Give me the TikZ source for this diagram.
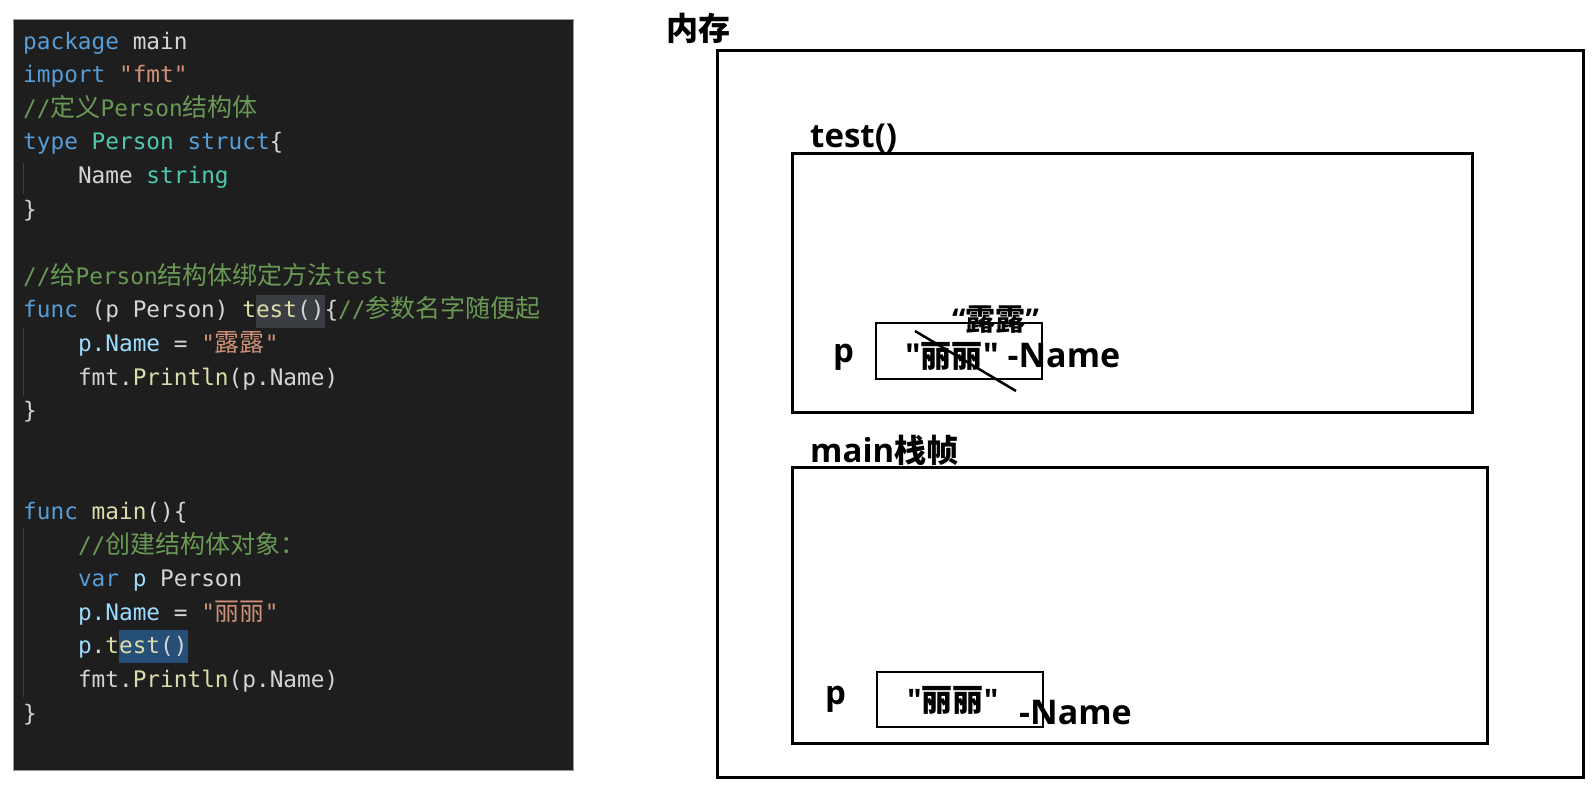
\documentclass[tikz,border=0pt]{standalone}
\usepackage{fontspec}
\setmainfont{Open Sans}
\setmonofont{DejaVu Sans Mono}
\newfontfamily\osans{Open Sans}
\newfontfamily\cjk{Noto Sans CJK SC}
\definecolor{cbg}{HTML}{1E1E1E}
\definecolor{ctxt}{HTML}{D4D4D4}
\definecolor{ckwc}{HTML}{569CD6}
\definecolor{ctyc}{HTML}{4EC9B0}
\definecolor{cstrc}{HTML}{CE9178}
\definecolor{ccmc}{HTML}{6A9955}
\definecolor{cfnc}{HTML}{DCDCAA}
\definecolor{cvrc}{HTML}{9CDCFE}
\definecolor{chlone}{HTML}{3A3D41}
\definecolor{chltwo}{HTML}{264F78}
\definecolor{cguide}{HTML}{404040}
\newcommand\ckw[1]{\textcolor{ckwc}{#1}}
\newcommand\cty[1]{\textcolor{ctyc}{#1}}
\newcommand\cstr[1]{\textcolor{cstrc}{#1}}
\newcommand\ccm[1]{\textcolor{ccmc}{#1}}
\newcommand\cfn[1]{\textcolor{cfnc}{#1}}
\newcommand\cvr[1]{\textcolor{cvrc}{#1}}
\newcommand\zh[1]{{\fontsize{25pt}{26pt}\selectfont\cjk #1}}
\newcommand\zb[2]{{\fontsize{#1}{#1}\selectfont\cjk\bfseries #2}}
\newcommand\lb[2]{{\fontsize{#1}{#1}\selectfont\osans\bfseries #2}}
\begin{document}
\begin{tikzpicture}[x=1pt,y=-1pt,
  code/.style={anchor=base west,inner sep=0pt,text=ctxt,font=\fontsize{22.75pt}{26pt}\ttfamily},
  lbl/.style={anchor=base west,inner sep=0pt,text=black},
  box/.style={draw=black,line width=3pt},
  cell/.style={draw=black,line width=2.5pt},
  guide/.style={draw=cguide,line width=1pt}]
\useasboundingbox (0,0) rectangle (1594,790);
\fill[white] (0,0) rectangle (1594,790);
% code panel
\fill[cbg,draw=black!40,line width=1pt] (13,19) rectangle (573,770);
\fill[chlone] (256,295) rectangle (325,328);
\fill[chltwo] (119,630) rectangle (188,663);
\draw[guide] (23,163) -- (23,194);
\draw[guide] (23,328) -- (23,396);
\draw[guide] (23,528) -- (23,697);
\node[code] (l0) at (23,49) {\ckw{package} main};
\node[code] (l1) at (23,82.6) {\ckw{import} \cstr{"fmt"}};
\node[code] (l2) at (23,116.2) {\ccm{//\zh{定义}Person\zh{结构体}}};
\node[code] (l3) at (23,149.8) {\ckw{type} \cty{Person} \ckw{struct}\{};
\node[code] (l4) at (77.8,183.4) {Name \cty{string}};
\node[code] (l5) at (23,217) {\}};
\node[code] (l7) at (23,284.2) {\ccm{//\zh{给}Person\zh{结构体绑定方法}test}};
\node[code] (l8) at (23,317.8) {\ckw{func} (p Person) \cfn{test}()\{\ccm{//\zh{参数名字随便起}}};
\node[code] (l9) at (77.8,351.4) {\cvr{p.Name} = \cstr{"\zh{露露}"}};
\node[code] (l10) at (77.8,385) {fmt.\cfn{Println}(p.Name)};
\node[code] (l11) at (23,418.6) {\}};
\node[code] (l14) at (23,519.4) {\ckw{func} \cfn{main}()\{};
\node[code] (l15) at (77.8,553) {\ccm{//\zh{创建结构体对象：}}};
\node[code] (l16) at (77.8,586.6) {\ckw{var} \cvr{p} Person};
\node[code] (l17) at (77.8,620.2) {\cvr{p.Name} = \cstr{"\zh{丽丽}"}};
\node[code] (l18) at (77.8,653.8) {\cvr{p}.\cfn{test}()};
\node[code] (l19) at (77.8,687.4) {fmt.\cfn{Println}(p.Name)};
\node[code] (l20) at (23,721) {\}};
% memory diagram
\node[lbl] (mem) at (666,40) {\zb{32pt}{内存}};
\draw[box] (717,50) rectangle (1583,777);
\node[lbl] (testt) at (810,147) {\lb{33pt}{test()}};
\draw[box] (792,153) rectangle (1472,412);
\node[lbl] (maint) at (810,462) {\lb{33pt}{main}\zb{32pt}{栈帧}};
\draw[box] (792,467) rectangle (1487,743);
% test frame content
\draw[cell] (876,323) rectangle (1042,379);
\node[lbl] (tp) at (833,362) {\lb{33pt}{p}};
\node[lbl] (tval) at (905,367) {\lb{33pt}{"}\zb{31pt}{丽丽}\lb{34pt}{" -Name}};
\node[lbl] (tnew) at (952,330) {\lb{30pt}{“}\zb{30pt}{露露}\lb{30pt}{”}};
\coordinate (s1) at (915,331);
\coordinate (s2) at (1016,391);
\draw[line width=2.5pt] (s1) -- (s2);
% main frame content
\draw[cell] (877,672) rectangle (1043,727);
\node[lbl] (mp) at (825,704) {\lb{33pt}{p}};
\node[lbl] (mval) at (907,711) {\lb{31pt}{"}\zb{31pt}{丽丽}\lb{31pt}{"}};
\node[lbl] (mname) at (1019,724) {\lb{34pt}{-Name}};
\end{tikzpicture}
\end{document}
